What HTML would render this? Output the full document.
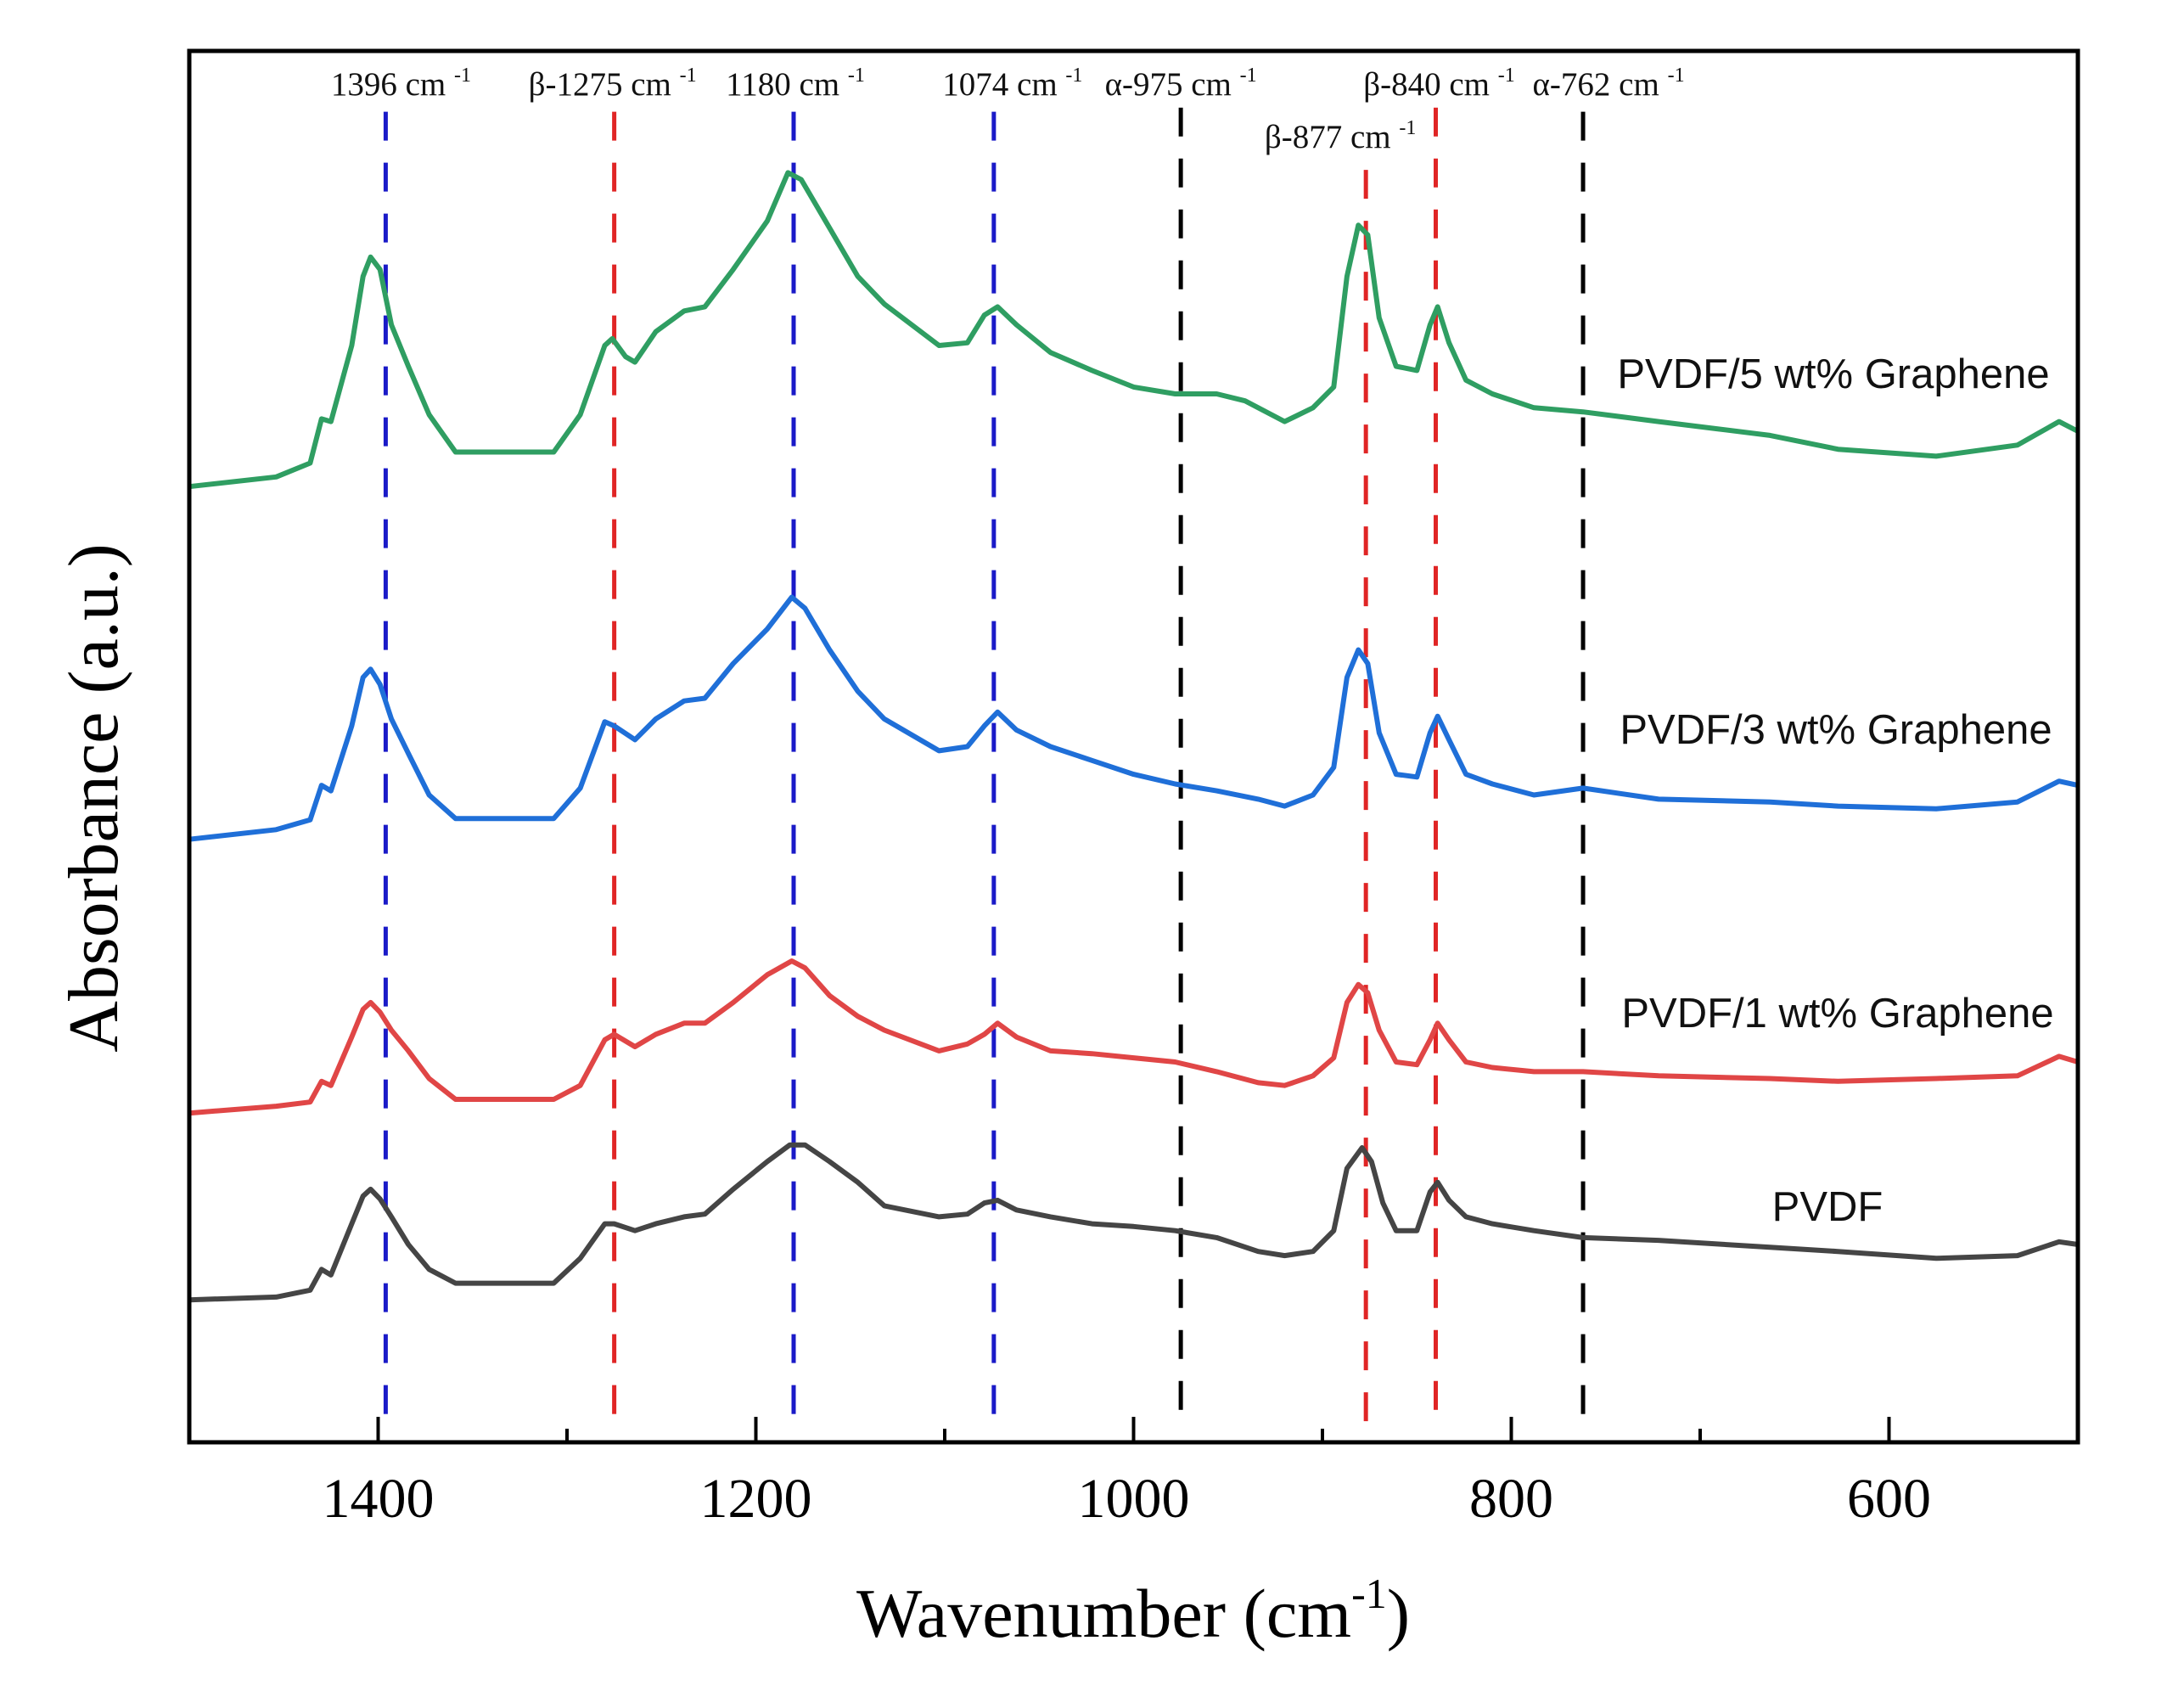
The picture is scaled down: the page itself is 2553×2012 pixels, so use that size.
<!DOCTYPE html>
<html><head><meta charset="utf-8"><style>
html,body{margin:0;padding:0;background:#fff;}
svg{display:block;font-family:"Liberation Serif",serif;}
</style></head><body>
<svg id="chart" width="2553" height="2012" viewBox="0 0 2553 2012" xmlns="http://www.w3.org/2000/svg">
<rect x="0" y="0" width="2553" height="2012" fill="#fff"/>
<g id="plot"></g>
</svg>
<script>
// ---- data ----
const waveA = [1500,1454,1436,1430,1425,1414,1408,1404,1399,1393,1384,1373,1359,1307,1293,1280,1275,1264,1253,1238,1227,1212,1194,1181,1174,1161,1146,1132,1103,1088,1079,1072,1062,1044,1022,1000,978,956,934,920,905,894,887,881,876,870,861,850,843,839,833,824,810,788,762,722,663,627,575,532,510,500];
const waveGreen = [1500,1454,1436,1430,1425,1414,1408,1404,1399,1393,1384,1373,1359,1307,1293,1280,1276,1269,1264,1253,1238,1227,1212,1194,1183,1176,1161,1146,1132,1103,1088,1079,1072,1062,1044,1022,1000,978,956,941,920,905,894,887,881,876,870,861,850,843,839,833,824,810,788,762,722,663,627,575,532,510,500];
const waveBlack = [1500,1454,1436,1430,1425,1414,1408,1404,1399,1393,1384,1373,1359,1307,1293,1280,1275,1264,1253,1238,1227,1212,1194,1182,1174,1161,1146,1132,1103,1088,1079,1072,1062,1044,1022,1000,978,956,934,920,905,894,887,879,874,868,861,850,843,839,833,824,810,788,762,722,663,627,575,532,510,500];
const absGreen = [6.91,6.98,7.08,7.40,7.38,7.93,8.43,8.57,8.48,8.08,7.78,7.43,7.16,7.16,7.43,7.93,7.98,7.85,7.81,8.03,8.18,8.21,8.48,8.83,9.18,9.13,8.78,8.43,8.23,7.93,7.95,8.15,8.21,8.08,7.88,7.75,7.63,7.58,7.58,7.53,7.38,7.48,7.63,8.43,8.80,8.73,8.13,7.78,7.75,8.08,8.21,7.95,7.68,7.58,7.48,7.45,7.38,7.28,7.18,7.13,7.21,7.38,7.31];
const absBlue = [4.36,4.43,4.50,4.75,4.71,5.18,5.53,5.59,5.48,5.23,4.98,4.68,4.51,4.51,4.73,5.21,5.18,5.08,5.23,5.36,5.38,5.63,5.88,6.11,6.03,5.73,5.43,5.23,5.00,5.03,5.18,5.28,5.15,5.03,4.93,4.83,4.76,4.71,4.65,4.60,4.68,4.88,5.53,5.73,5.63,5.13,4.83,4.81,5.13,5.25,5.08,4.83,4.76,4.68,4.73,4.65,4.63,4.60,4.58,4.63,4.78,4.75];
const absRed = [2.38,2.43,2.46,2.61,2.58,2.93,3.13,3.18,3.11,2.98,2.83,2.63,2.48,2.48,2.58,2.91,2.95,2.86,2.95,3.03,3.03,3.18,3.38,3.48,3.43,3.23,3.08,2.98,2.83,2.88,2.95,3.03,2.93,2.83,2.81,2.78,2.75,2.68,2.60,2.58,2.65,2.78,3.18,3.31,3.25,2.98,2.75,2.73,2.91,3.03,2.91,2.75,2.71,2.68,2.68,2.65,2.63,2.61,2.63,2.65,2.79,2.75];
const absBlack = [1.03,1.05,1.10,1.25,1.21,1.58,1.78,1.83,1.76,1.63,1.43,1.25,1.15,1.15,1.33,1.58,1.58,1.53,1.58,1.63,1.65,1.83,2.03,2.15,2.15,2.03,1.88,1.71,1.63,1.65,1.73,1.75,1.68,1.63,1.58,1.56,1.53,1.48,1.38,1.35,1.38,1.53,1.98,2.13,2.03,1.73,1.53,1.53,1.81,1.88,1.75,1.63,1.58,1.53,1.48,1.46,1.41,1.38,1.33,1.35,1.45,1.43];
const seriesNames = ["PVDF/5 wt% Graphene","PVDF/3 wt% Graphene","PVDF/1 wt% Graphene","PVDF"];
const majorTicks = [1400,1200,1000,800,600];
const minorTicks = [1300,1100,900,700];
const refWaves = [1396,1275,1180,1074,975,877,840,762];
const refLabels = ["1396 cm","β-1275 cm","1180 cm","1074 cm","α-975 cm","β-877 cm","β-840 cm","α-762 cm"];
const refTop = [9.62,9.62,9.62,9.62,9.65,9.2,9.65,9.62];
const refBottom = [0.05,0.1,0.1,0.18,0.12,0.05,0.08,0.08];

// ---- layout ----
const L=223,R=2448,T=60,B=1699;
const xS = w => L + (1500 - w) / 1000 * (R - L);
const yS = v => B - v / 10.06 * (B - T);
const NS="http://www.w3.org/2000/svg";
const g=document.getElementById('plot');
function mk(tag, attrs, parent){const e=document.createElementNS(NS,tag);for(const k in attrs)e.setAttribute(k,attrs[k]);(parent||g).appendChild(e);return e;}

// reference dashed lines
const refColors=["#1a1ac8","#e02525","#1a1ac8","#1a1ac8","#000","#e02525","#e02525","#000"];
const labelY=[100,100,100,100,100,162,100,100];
const labelDx=[18,-2,2,22,0,-30,4,30];
refWaves.forEach((w,i)=>{
  const ln=mk('line',{x1:xS(w),x2:xS(w),y1:yS(refTop[i]),y2:yS(refBottom[i]),stroke:refColors[i],'stroke-width':5,'stroke-dasharray':'34 26'});
  
  
  const t=mk('text',{x:xS(w)+labelDx[i],y:labelY[i]+12,'text-anchor':'middle','font-size':39,fill:'#111'});
  
  
  t.textContent=refLabels[i]+' ';
  const s=mk('tspan',{'font-size':24,dy:-16},t); s.textContent='-1';
});

// series
const series=[[waveGreen,absGreen,"#2f9e62"],[waveA,absBlue,"#1f6fd8"],[waveA,absRed,"#e04646"],[waveBlack,absBlack,"#454545"]];
series.forEach((s,i)=>{
  const d=s[0].map((w,j)=>(j?'L':'M')+xS(w).toFixed(1)+' '+yS(s[1][j]).toFixed(1)).join(' ');
  const p=mk('path',{d:d,fill:'none',stroke:s[2],'stroke-width':6,'stroke-linejoin':'round'});
  
  
});
const labY=[441,860,1194,1422], labX=[2160,2163,2165,2153];
seriesNames.forEach((n,i)=>{
  const t=mk('text',{x:labX[i],y:labY[i]+16,'text-anchor':'middle','font-size':49,fill:'#111','font-family':'Liberation Sans, sans-serif'});
  
  
  t.textContent=n;
});

// ticks
majorTicks.forEach(w=>{
  const tk=mk('line',{x1:xS(w),x2:xS(w),y1:B,y2:B-30,stroke:'#000','stroke-width':4});
  
  
  const t=mk('text',{x:xS(w),y:1787,'text-anchor':'middle','font-size':66,fill:'#000'});
  
  
  t.textContent=w;
});
minorTicks.forEach(w=>{
  const tk=mk('line',{x1:xS(w),x2:xS(w),y1:B,y2:B-16,stroke:'#000','stroke-width':4});
  
  
});

// frame
const fr=mk('rect',{x:L,y:T,width:R-L,height:B-T,fill:'none',stroke:'#000','stroke-width':5});



// axis titles
const xt=mk('text',{x:1335,y:1928,'text-anchor':'middle','font-size':82,fill:'#000'});


xt.textContent='Wavenumber (cm';
const sup=mk('tspan',{'font-size':50,dy:-34},xt); sup.textContent='-1';
const cl=mk('tspan',{dy:34},xt); cl.textContent=')';
const yt=mk('text',{x:0,y:0,'text-anchor':'middle','font-size':84,fill:'#000',transform:'translate(138,940) rotate(-90)'});


yt.textContent='Absorbance (a.u.)';
</script>
</body></html>
